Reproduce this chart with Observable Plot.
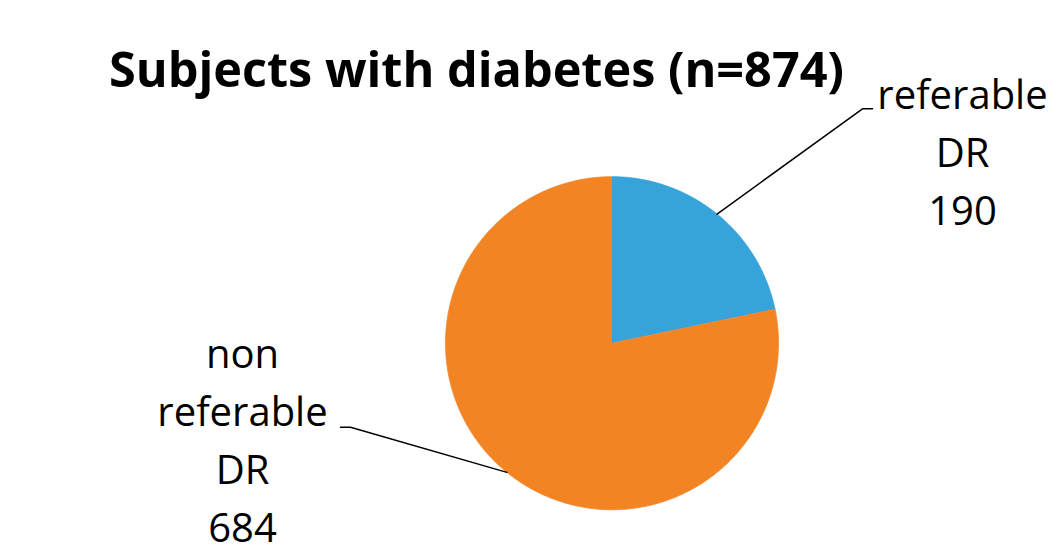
<!DOCTYPE html>
<html>
<head>
<meta charset="utf-8">
<script src="https://cdn.jsdelivr.net/npm/d3@7"></script>
<script src="https://cdn.jsdelivr.net/npm/@observablehq/plot@0.6"></script>
<style>
  html, body { margin: 0; padding: 0; background: #fff; }
  #wrap { position: relative; width: 1062px; height: 546px; overflow: hidden; }
  #title {
    position: absolute; left: 0; top: 44px; width: 953px; text-align: center;
    font-family: "Open Sans", sans-serif; font-weight: bold; font-size: 48.6px; line-height: 1;
    color: #000; white-space: nowrap;
  }
</style>
</head>
<body>
<div id="wrap">
  <div id="chart"></div>
  <div id="title">Subjects with diabetes (n=874)</div>
</div>
<script>
// ---- data ----
const categories = ["referable DR", "non referable DR"];
const counts = [190, 684];
const labelWords = [["referable", "DR"], ["non", "referable", "DR"]];

// ---- layout / style ----
const W = 1062, H = 546;
const pie = { cx: 611.5, cy: 342.7, r: 166.5 };
const colors = ["#36A3DB", "#F38424"];
const labelLayout = [
  { x: 962, y0: 108, elbow: [862, 108.3], end: [872, 108.3] },
  { x: 242, y0: 367, elbow: [350, 426.7], end: [340, 426.7] }
];
const lineHeight = 58;
const fontFamily = "'Open Sans', sans-serif";

const table = categories.map((c, i) => ({ category: c, count: counts[i] }));
const arcs = d3.pie().sort(null).value(d => d.count).startAngle(0).endAngle(2 * Math.PI)(table);

const pt = (a, rr) => ({ x: pie.cx + rr * Math.sin(a), y: pie.cy - rr * Math.cos(a) });

// slice polygons from pie angles
const slicePts = [];
arcs.forEach(a => {
  const cat = a.data.category;
  slicePts.push({ category: cat, ...pt(0, 0) });
  const n = Math.max(2, Math.ceil((a.endAngle - a.startAngle) / (Math.PI / 360)));
  for (let k = 0; k <= n; k++) {
    const ang = a.startAngle + (a.endAngle - a.startAngle) * k / n;
    slicePts.push({ category: cat, ...pt(ang, pie.r) });
  }
});

// leader lines
const leaderPts = [];
arcs.forEach((a, i) => {
  const mid = (a.startAngle + a.endAngle) / 2;
  const L = labelLayout[i];
  leaderPts.push({ id: i, ...pt(mid, pie.r) });
  leaderPts.push({ id: i, x: L.elbow[0], y: L.elbow[1] });
  leaderPts.push({ id: i, x: L.end[0], y: L.end[1] });
});

// label lines
const labelLines = [];
arcs.forEach((a, i) => {
  const lines = [...labelWords[i], String(a.data.count)];
  lines.forEach((t, j) => labelLines.push({ text: t, x: labelLayout[i].x, y: labelLayout[i].y0 + j * lineHeight }));
});

const chart = Plot.plot({
  width: W, height: H,
  margin: 0,
  x: { domain: [0, W], range: [0, W], axis: null },
  y: { domain: [0, H], range: [0, H], axis: null },
  color: { domain: categories, range: colors },
  style: { background: "#fff", fontFamily },
  marks: [
    Plot.line(slicePts, { x: "x", y: "y", z: "category", fill: "category", stroke: "category", strokeWidth: 0.8 }),
    Plot.line(leaderPts, { x: "x", y: "y", z: "id", stroke: "#000", strokeWidth: 1.5 }),
    Plot.text(labelLines, { x: "x", y: "y", text: "text", lineAnchor: "bottom", textAnchor: "middle",
      fontSize: 40, fill: "#000", fontFamily })
  ]
});
document.getElementById("chart").appendChild(chart);
</script>
</body>
</html>
